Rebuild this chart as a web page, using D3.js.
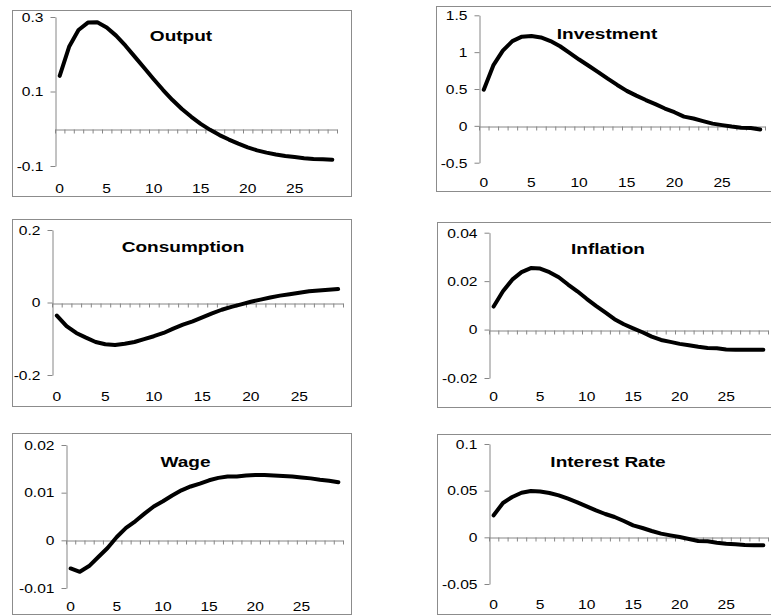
<!DOCTYPE html>
<html>
<head>
<meta charset="utf-8">
<script src="https://cdn.jsdelivr.net/npm/d3@7"></script>
<style>
  html, body { margin: 0; padding: 0; background: #fff; }
  svg { display: block; }
  text { font-family: "Liberation Sans", Arial, sans-serif; fill: #000; }
</style>
</head>
<body>
<svg id="chart" width="771" height="615"></svg>
<script>
// Impulse responses, periods 0..29
const periods = d3.range(30);
const xTickLabels = [0, 5, 10, 15, 20, 25];

const output = [0.142, 0.22, 0.265, 0.285, 0.286, 0.272, 0.25, 0.223, 0.193, 0.163,
  0.133, 0.104, 0.077, 0.053, 0.032, 0.013, -0.003, -0.017, -0.029, -0.040,
  -0.050, -0.058, -0.064, -0.069, -0.073, -0.076, -0.079, -0.081, -0.082, -0.083];

const investment = [0.49, 0.82, 1.02, 1.15, 1.21, 1.22, 1.20, 1.15, 1.08, 0.99,
  0.90, 0.815, 0.73, 0.64, 0.555, 0.475, 0.41, 0.35, 0.295, 0.235,
  0.185, 0.125, 0.10, 0.065, 0.03, 0.01, -0.01, -0.025, -0.03, -0.05];

const consumption = [-0.036, -0.065, -0.084, -0.097, -0.109, -0.115, -0.117, -0.114, -0.109, -0.101,
  -0.093, -0.084, -0.072, -0.061, -0.052, -0.041, -0.030, -0.020, -0.012, -0.005,
  0.002, 0.008, 0.014, 0.019, 0.023, 0.027, 0.031, 0.033, 0.035, 0.037];

const inflation = [0.0095, 0.0158, 0.0206, 0.0237, 0.0254, 0.0252, 0.0237, 0.0216, 0.0186, 0.0158,
  0.0127, 0.0098, 0.0071, 0.0043, 0.0022, 0.0005, -0.0011, -0.0029, -0.0043, -0.0051,
  -0.0059, -0.0065, -0.0071, -0.0076, -0.0077, -0.0082, -0.0083, -0.0083, -0.0083, -0.0083];

const wage = [-0.0059, -0.0066, -0.0054, -0.0035, -0.0016, 0.0007, 0.0026, 0.0040, 0.0056, 0.0071,
  0.0082, 0.0094, 0.0105, 0.0113, 0.0119, 0.0126, 0.0131, 0.0134, 0.0134, 0.0136,
  0.0137, 0.0137, 0.0136, 0.0135, 0.0134, 0.0132, 0.0130, 0.0127, 0.0125, 0.0122];

const interestRate = [0.0236, 0.0368, 0.0432, 0.0478, 0.0496, 0.049, 0.0475, 0.045, 0.0414, 0.0375,
  0.0332, 0.0289, 0.025, 0.0218, 0.0175, 0.0128, 0.010, 0.0068, 0.004, 0.0021,
  0.0003, -0.0018, -0.004, -0.0043, -0.0057, -0.0068, -0.0075, -0.0082, -0.0086, -0.0086];

const outputTicks = [-0.1, 0.1, 0.3];
const investmentTicks = [-0.5, 0, 0.5, 1, 1.5];
const consumptionTicks = [-0.2, 0, 0.2];
const inflationTicks = [-0.02, 0, 0.02, 0.04];
const wageTicks = [-0.01, 0, 0.01, 0.02];
const interestTicks = [-0.05, 0, 0.05, 0.1];

// Panel layout: frame box, plot area, title placement
const panels = [
  { title: "Output", values: output, ticks: outputTicks,
    frame: [12, 10, 351, 196], x0: 55, x1: 337, yTop: 17, yBot: 166,
    titleX: 181, titleY: 40.5, labelY: 193 },
  { title: "Investment", values: investment, ticks: investmentTicks,
    frame: [436, 6, 773, 191], x0: 479, x1: 765, yTop: 15.3, yBot: 162.7,
    titleX: 607, titleY: 39, labelY: 187 },
  { title: "Consumption", values: consumption, ticks: consumptionTicks,
    frame: [12, 219, 351, 406], x0: 52, x1: 343, yTop: 230, yBot: 375,
    titleX: 183, titleY: 251.5, labelY: 401 },
  { title: "Inflation", values: inflation, ticks: inflationTicks,
    frame: [437, 222, 773, 407], x0: 489, x1: 768, yTop: 232.7, yBot: 378,
    titleX: 608, titleY: 254, labelY: 401 },
  { title: "Wage", values: wage, ticks: wageTicks,
    frame: [12, 433, 351, 614], x0: 66, x1: 343, yTop: 445, yBot: 588,
    titleX: 185.5, titleY: 466.5, labelY: 611 },
  { title: "Interest Rate", values: interestRate, ticks: interestTicks,
    frame: [437, 434, 773, 614], x0: 489, x1: 768, yTop: 444, yBot: 584,
    titleX: 608, titleY: 466.7, labelY: 609 }
];

const svg = d3.select("#chart");
const axisColor = "#868686";
const stretch = 1.3;       // horizontal stretch of all lettering
const titleStretch = 1.27;

function fmt(v) {
  if (v === 0) return "0";
  return String(+v.toFixed(4));
}

panels.forEach(p => {
  const g = svg.append("g");
  const [fx0, fy0, fx1, fy1] = p.frame;

  g.append("rect")
    .attr("x", fx0 + 0.5).attr("y", fy0 + 0.5)
    .attr("width", fx1 - fx0).attr("height", fy1 - fy0)
    .attr("fill", "#fff").attr("stroke", "#8c8c8c").attr("stroke-width", 1);

  const dom = d3.extent(p.ticks);
  const y = d3.scaleLinear().domain(dom).range([p.yBot, p.yTop]);
  const xl = d3.scaleLinear().domain([0, periods.length]).range([p.x0, p.x1]);
  const xc = i => xl(i + 0.5);

  // Value axis
  const yAxis = g.append("g")
    .attr("transform", `translate(${p.x0 + 0.5},0)`)
    .call(d3.axisLeft(y).tickValues(p.ticks).tickSize(5).tickSizeOuter(0).tickFormat(fmt));
  yAxis.select(".domain").attr("stroke", axisColor);
  yAxis.selectAll(".tick line").attr("stroke", axisColor);
  yAxis.selectAll(".tick text")
    .attr("x", -12 / stretch)
    .attr("dy", "0.36em")
    .attr("transform", `scale(${stretch},1)`)
    .style("font-size", "12px")
    .style("font-family", "'Liberation Sans', Arial, sans-serif")
    .attr("fill", "#000");

  // Category axis crossing at zero, tick marks at category boundaries
  const xAxis = g.append("g")
    .attr("transform", `translate(0,${Math.round(y(0)) + 0.5})`)
    .call(d3.axisBottom(xl).tickValues(d3.range(periods.length + 1))
      .tickSize(4).tickSizeOuter(0).tickFormat(""));
  xAxis.select(".domain").attr("stroke", axisColor);
  xAxis.selectAll(".tick line").attr("stroke", axisColor);

  // Category labels along the bottom
  g.selectAll("text.xlab").data(xTickLabels).join("text")
    .attr("class", "xlab")
    .attr("transform", d => `translate(${xc(d)},${p.labelY}) scale(${stretch},1)`)
    .attr("text-anchor", "middle")
    .style("font-size", "12px")
    .text(d => d);

  // Response line
  const line = d3.line().x((d, i) => xc(i)).y(d => y(d));
  g.append("path")
    .datum(p.values)
    .attr("d", line)
    .attr("fill", "none")
    .attr("stroke", "#000")
    .attr("stroke-width", 4)
    .attr("stroke-linejoin", "round")
    .attr("stroke-linecap", "round");

  // Title
  g.append("text")
    .attr("transform", `translate(${p.titleX},${p.titleY}) scale(${titleStretch},1)`)
    .attr("text-anchor", "middle")
    .style("font-size", "15px")
    .style("font-weight", "bold")
    .text(p.title);
});
</script>
</body>
</html>
